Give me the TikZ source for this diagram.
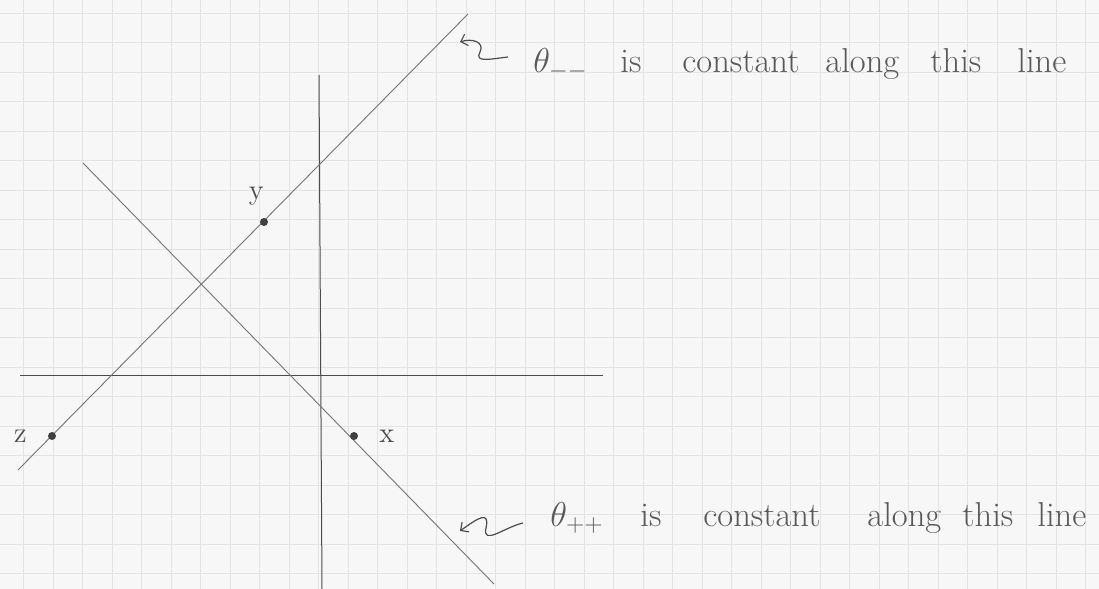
\documentclass[tikz,border=0pt]{standalone}
\usetikzlibrary{arrows.meta, positioning}
\tikzset{
  paper/.style = {draw=black!11, line width=0.3pt},
  axis/.style = {draw=black!70, line width=0.5pt},
  pencil/.style = {draw=black!55, line width=0.45pt},
  dot/.style = {circle, fill=black!75, inner sep=0pt, minimum size=4pt},
  lab/.style = {text=black!70, font=\Large},
  note/.style = {text=black!65, font=\LARGE, anchor=base west, inner sep=0pt},
  squiggle/.style = {draw=black!70, line width=0.6pt, -{Straight Barb[length=3pt]}},
}
\begin{document}
\begin{tikzpicture}[x=0.5pt, y=-0.5pt]
  \useasboundingbox (0,0) rectangle (1099,589);

  % grid paper
  \fill[black!3] (0,0) rectangle (1099,589);
  \foreach \gx in {23.5,53,...,1099} \draw[paper] (\gx,0) -- (\gx,589);
  \foreach \gy in {13,42.5,...,589} \draw[paper] (0,\gy) -- (1099,\gy);

  % axes
  \coordinate (xw) at (20,375);
  \coordinate (xe) at (603,375);
  \coordinate (yn) at (319,75);
  \coordinate (ys) at (322,589);
  \draw[axis] (xw) -- (xe);
  \draw[axis] (yn) -- (ys);

  % the two lines
  \coordinate (mmlo) at (18,470);
  \coordinate (mmhi) at (468,14);
  \coordinate (pplo) at (83,163);
  \coordinate (pphi) at (494,584);
  \draw[pencil] (mmlo) -- (mmhi);
  \draw[pencil] (pplo) -- (pphi);

  % points
  \node[dot] (z) at (52,436) {};
  \node[dot] (y) at (264,222) {};
  \node[dot] (x) at (354,436) {};
  \node[lab, left=7pt of z] (zl) {z};
  \node[lab, above left=3pt and -5pt of y] (yl) {y};
  \node[lab, right=7pt of x] (xl) {x};

  % note on the theta_-- line
  \coordinate (mmtail) at (508,57);
  \coordinate (mmtip) at (460,42);
  \draw[squiggle] (mmtail) .. controls (490,59) and (474,63) .. (480,52)
    .. controls (485,42) and (472,38) .. (mmtip);
  \node[note] (mmtheta) at (533,72) {$\theta_{--}$};
  \foreach \w/\wx in {is/620, constant/682, along/825, this/930, line/1017}
    \node[note] (mm-\w) at (\wx,72) {\w};

  % note on the theta_++ line
  \coordinate (pptail) at (523,523);
  \coordinate (pptip) at (460,531);
  \draw[squiggle] (pptail) .. controls (505,527) and (482,546) .. (486,528)
    .. controls (490,510) and (478,518) .. (pptip);
  \node[note] (pptheta) at (550,526) {$\theta_{++}$};
  \foreach \w/\wx in {is/640, constant/703, along/867, this/962, line/1037}
    \node[note] (pp-\w) at (\wx,526) {\w};
\end{tikzpicture}
\end{document}
